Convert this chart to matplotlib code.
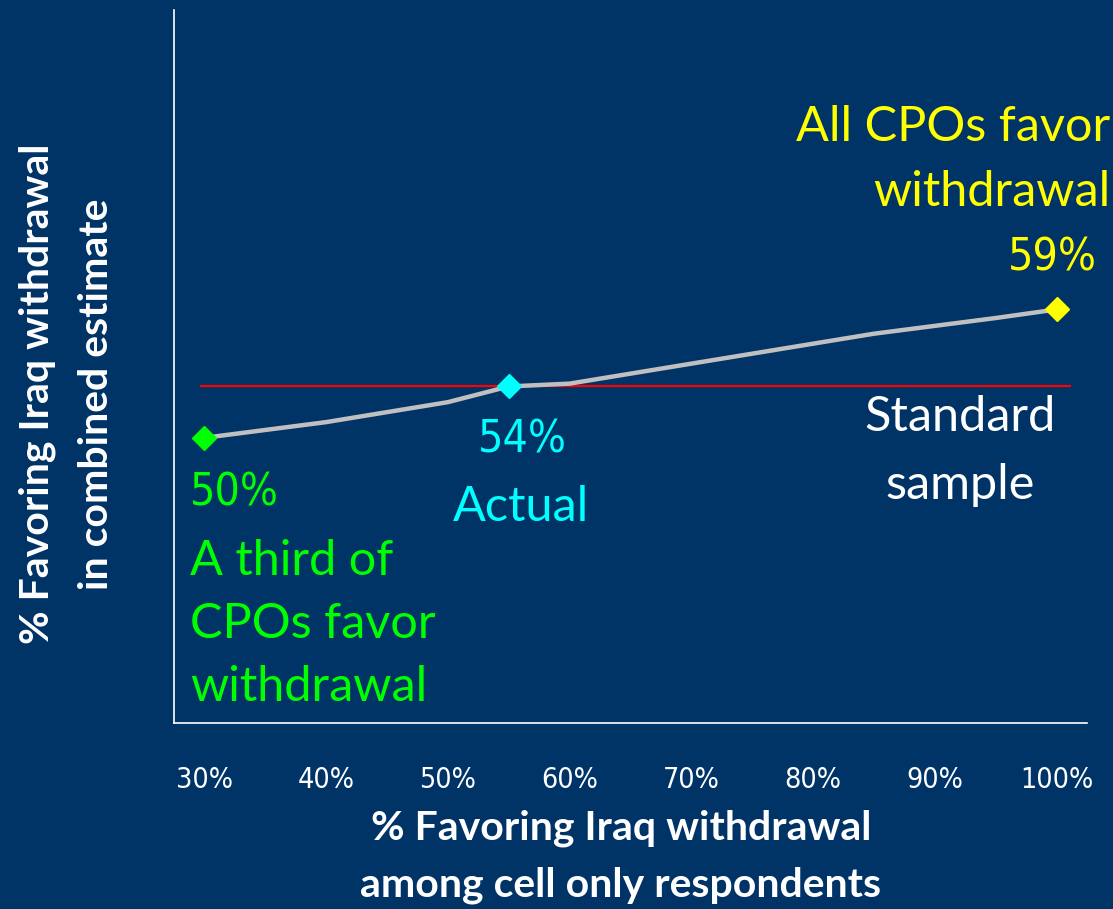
import matplotlib
matplotlib.use("Agg")
import matplotlib.pyplot as plt
from matplotlib import font_manager

# ---- data ----
x_cell = [30, 40, 50, 55, 60, 70, 80, 85, 95, 100]
y_combined = [50.0, 51.1, 52.5, 53.6, 53.8, 55.2, 56.6, 57.3, 58.4, 59.0]
highlight_x = [30, 55, 100]
highlight_y = [50.0, 53.6, 59.0]
highlight_colors = ["#00FF00", "#00FFFF", "#FFFF00"]
standard_x = [29.7, 101.1]
standard_y = [53.6, 53.6]
tick_values = [30, 40, 50, 60, 70, 80, 90, 100]
tick_labels = ["30%", "40%", "50%", "60%", "70%", "80%", "90%", "100%"]

BG = "#003366"
fonts = font_manager.fontManager.ttflist
narrow_prop = None
for f in fonts:
    if ("Narrow" in f.fname or "Condensed" in f.fname) and "Bold" not in f.fname and "Oblique" not in f.fname and "Italic" not in f.fname:
        narrow_prop = font_manager.FontProperties(fname=f.fname)
        break
if narrow_prop is None:
    narrow_prop = font_manager.FontProperties(family="Lato")
body = "Lato"

fig = plt.figure(figsize=(11.13, 9.09), dpi=100, facecolor=BG)
ax = fig.add_axes([174/1113, 1-723/909, (1087-174)/1113, (723-10)/909])
ax.set_facecolor(BG)

ax.plot(x_cell, y_combined, color="#C0C0C0", lw=3.2, solid_capstyle="round", zorder=3)
ax.plot(standard_x, standard_y, color="#FF0000", lw=1.6, zorder=2)
for xv, yv, c in zip(highlight_x, highlight_y, highlight_colors):
    ax.plot([xv], [yv], marker="D", ms=12.5, color=c, mec=c, zorder=4, linestyle="none")

ax.set_xlim(27.5, 102.5)
ax.set_ylim(30, 80)
ax.set_xticks(tick_values)
ax.set_xticklabels(tick_labels, color="white")
for lab in ax.get_xticklabels():
    lab.set_fontproperties(narrow_prop)
    lab.set_fontsize(20.5)
ax.set_yticks([])
ax.tick_params(axis="x", length=0, pad=31)
for s in ["top", "right"]:
    ax.spines[s].set_visible(False)
for s in ["left", "bottom"]:
    ax.spines[s].set_color("white")
    ax.spines[s].set_linewidth(1.2)

def fx(px):
    return px / 1113

def fy(py):
    return 1 - py / 909

tsize = 29.5
fig.text(fx(621), fy(828), "% Favoring Iraq withdrawal", ha="center", va="center",
         fontsize=tsize, fontweight="bold", color="white", fontfamily=body)
fig.text(fx(621), fy(885), "among cell only respondents", ha="center", va="center",
         fontsize=tsize, fontweight="bold", color="white", fontfamily=body)
fig.text(fx(37), fy(394), "% Favoring Iraq withdrawal", ha="center", va="center", rotation=90,
         fontsize=tsize, fontweight="bold", color="white", fontfamily=body)
fig.text(fx(97), fy(394), "in combined estimate", ha="center", va="center", rotation=90,
         fontsize=tsize, fontweight="bold", color="white", fontfamily=body)

big = 35

def num(px, py, s, color, ha):
    t = fig.text(fx(px), fy(py), s, ha=ha, va="center", color=color)
    t.set_fontproperties(narrow_prop)
    t.set_fontsize(32)

num(190, 493, "50%", "#00FF00", "left")
for txt, py in [("A third of", 561), ("CPOs favor", 624), ("withdrawal", 687)]:
    fig.text(fx(190), fy(py), txt, ha="left", va="center", fontsize=big, color="#00FF00", fontfamily=body)

num(522, 440, "54%", "#00FFFF", "center")
fig.text(fx(521), fy(507), "Actual", ha="center", va="center", fontsize=big, color="#00FFFF", fontfamily=body)

for txt, py in [("All CPOs favor", 127), ("withdrawal", 192)]:
    fig.text(fx(1110), fy(py), txt, ha="right", va="center", fontsize=big, color="#FFFF00", fontfamily=body)
num(1097, 258, "59%", "#FFFF00", "right")

fig.text(fx(960), fy(417), "Standard", ha="center", va="center", fontsize=big, color="white", fontfamily=body)
fig.text(fx(960), fy(485), "sample", ha="center", va="center", fontsize=big, color="white", fontfamily=body)

fig.savefig("out.png", dpi=100, facecolor=BG)
